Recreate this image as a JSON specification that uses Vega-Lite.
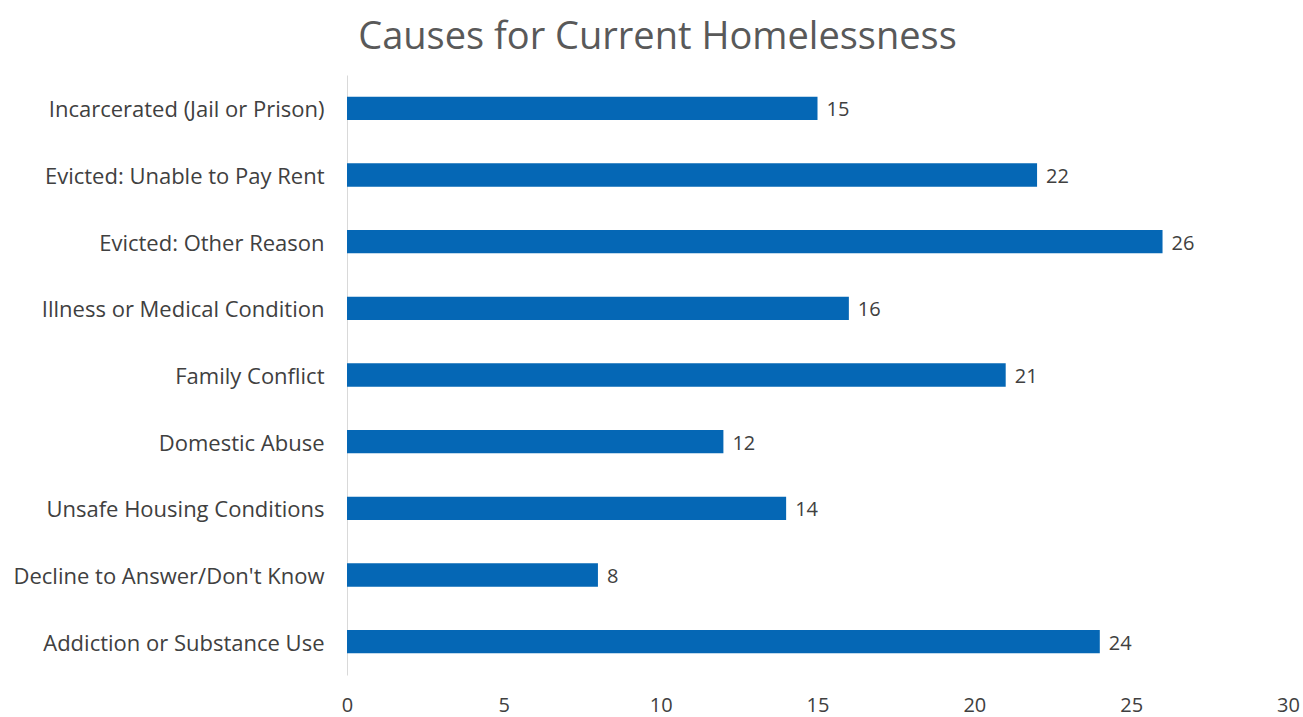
{
  "$schema": "https://vega.github.io/schema/vega-lite/v6.json",
  "width": 941,
  "height": 600,
  "autosize": {"type": "none"},
  "padding": {"left": 347, "top": 75, "right": 15, "bottom": 42},
  "background": "white",
  "title": {"text": "Causes for Current Homelessness", "anchor": "middle", "frame": "group", "dx": -160, "fontSize": 38, "font": "Open Sans", "fontWeight": "normal", "color": "#595959", "offset": 18},
  "data": {"values": [
    {"cause": "Incarcerated (Jail or Prison)", "value": 15},
    {"cause": "Evicted: Unable to Pay Rent", "value": 22},
    {"cause": "Evicted: Other Reason", "value": 26},
    {"cause": "Illness or Medical Condition", "value": 16},
    {"cause": "Family Conflict", "value": 21},
    {"cause": "Domestic Abuse", "value": 12},
    {"cause": "Unsafe Housing Conditions", "value": 14},
    {"cause": "Decline to Answer/Don't Know", "value": 8},
    {"cause": "Addiction or Substance Use", "value": 24}
  ]},
  "config": {"view": {"stroke": null}},
  "encoding": {
    "y": {"field": "cause", "type": "nominal", "sort": null, "title": null,
      "scale": {"paddingInner": 0.65, "paddingOuter": 0.325},
      "axis": {"domain": true, "domainColor": "#d9d9d9", "domainWidth": 1, "ticks": false, "labelPadding": 23, "labelFontSize": 22, "labelFont": "Open Sans", "labelColor": "#404040", "labelLimit": 400, "labelOffset": 2}},
    "x": {"field": "value", "type": "quantitative", "title": null,
      "scale": {"domain": [0, 30], "nice": false},
      "axis": {"values": [0, 5, 10, 15, 20, 25, 30], "grid": false, "domain": false, "ticks": false, "labelPadding": 20, "labelFontSize": 20, "labelFont": "Open Sans", "labelColor": "#404040", "labelFlush": false}}
  },
  "layer": [
    {"mark": {"type": "bar", "color": "#0567B5"}},
    {"mark": {"type": "text", "align": "left", "baseline": "middle", "dx": 9, "dy": 2, "fontSize": 20, "font": "Open Sans", "color": "#404040"},
      "encoding": {"text": {"field": "value", "type": "quantitative"}}}
  ]
}
